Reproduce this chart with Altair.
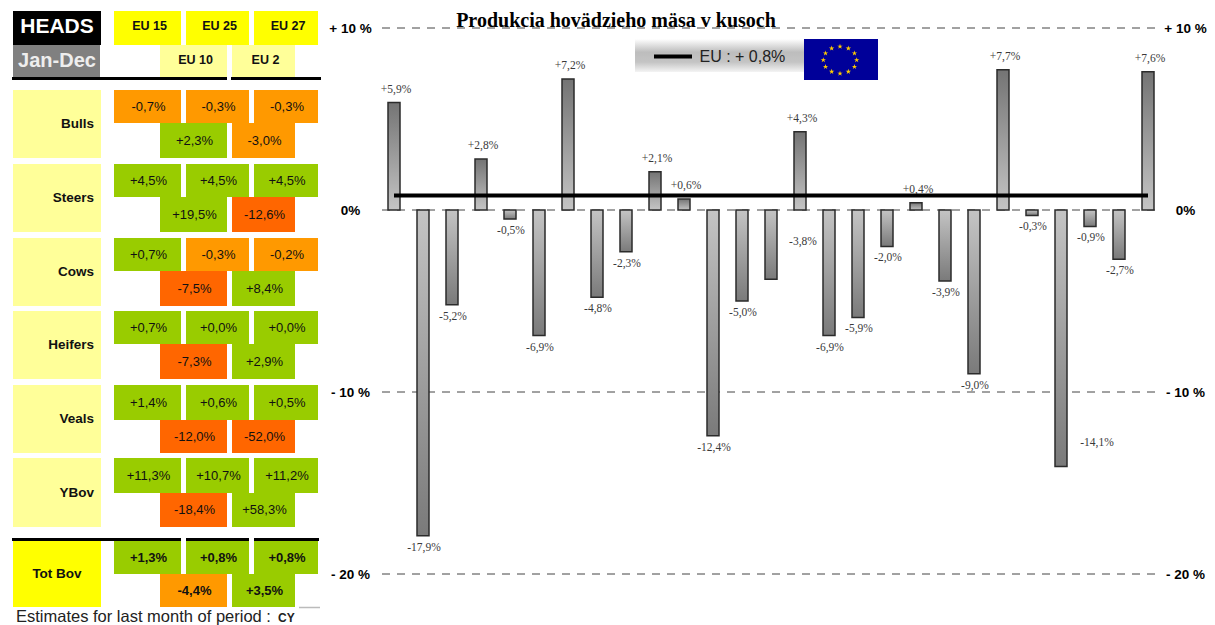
import altair as alt
import pandas as pd

# ---- bar chart values ----
countries = ["BE","BG","CZ","DK","DE","EE","IE","GR","ES","FR","IT","CY","LV","LT","LU","HU","MT","NL","AT","PL","PT","RO","SI","SK","FI","SE","UK"]
changes = [5.9,-17.9,-5.2,2.8,-0.5,-6.9,7.2,-4.8,-2.3,2.1,0.6,-12.4,-5.0,-3.8,4.3,-6.9,-5.9,-2.0,0.4,-3.9,-9.0,7.7,-0.3,-14.1,-0.9,-2.7,7.6]
eu_level = 0.8
y_ticks = [-20, -10, 0, 10]
title_text = "Produkcia hovädzieho mäsa v kusoch"
legend_text = "EU : + 0,8%"
stars = list(range(12))

# ---- table values ----
row_names = ["Bulls","Steers","Cows","Heifers","Veals","YBov","Tot Bov"]
eu15 = [-0.7,4.5,0.7,0.7,1.4,11.3,1.3]
eu25 = [-0.3,4.5,-0.3,0.0,0.6,10.7,0.8]
eu27 = [-0.3,4.5,-0.2,0.0,0.5,11.2,0.8]
eu10 = [2.3,19.5,-7.5,-7.3,-12.0,-18.4,-4.4]
eu2 = [-3.0,-12.6,8.4,2.9,-52.0,58.3,3.5]
top_heads = ["EU 15","EU 25","EU 27"]
low_heads = ["EU 10","EU 2"]
footer_text = "Estimates for last month of period : "
footer_code = "CY"

SANS = "Liberation Sans"
SERIF = "Liberation Serif"

def pct(v):
    return f"{v:+.1f}%".replace(".", ",")

# ---- table geometry (in table units, drawn through the panel's scales) ----
TW, TH = 315, 600
TOP_COLS = {"EU 15": (106, 173), "EU 25": (178, 241), "EU 27": (246, 310)}
LOW_COLS = {"EU 10": (152, 219), "EU 2": (224, 287)}
ROW_TOP = [82, 156, 230, 303, 377, 450, 533]
ROW_MID = [115, 189, 263, 336, 412, 485, 566]
ROW_BOT = [150, 224, 298, 371, 445, 519, 599]

fills = []
values = []
texts = []
for i, name in enumerate(row_names):
    is_tot = name == "Tot Bov"
    fills.append(dict(x0=5, x1=93, y0=ROW_TOP[i], y1=ROW_BOT[i], c="#ffff00" if is_tot else "#ffff99"))
    texts.append(dict(x=49 if is_tot else 86, y=(ROW_TOP[i] + ROW_BOT[i]) / 2, t=name, a="center" if is_tot else "right"))
    for head, v in zip(top_heads, (eu15[i], eu25[i], eu27[i])):
        a, b = TOP_COLS[head]
        values.append(dict(x0=a, x1=b, y0=ROW_TOP[i], y1=ROW_MID[i], v=v, t=pct(v), bold=is_tot))
    for head, v in zip(low_heads, (eu10[i], eu2[i])):
        a, b = LOW_COLS[head]
        values.append(dict(x0=a, x1=b, y0=ROW_MID[i], y1=ROW_BOT[i], v=v, t=pct(v), bold=is_tot))

head_cells = [dict(x0=5, x1=93, y0=3, y1=37, c="#000000"), dict(x0=5, x1=92, y0=37, y1=69, c="#808080")]
for head in top_heads:
    a, b = TOP_COLS[head]
    head_cells.append(dict(x0=a, x1=b, y0=3, y1=37, c="#ffff00"))
for head in low_heads:
    a, b = LOW_COLS[head]
    head_cells.append(dict(x0=a, x1=b, y0=37, y1=69, c="#ffff99"))
head_text = [dict(x=(TOP_COLS[h][0] + TOP_COLS[h][1]) / 2 + 2, y=18, t=h) for h in top_heads]
head_text += [dict(x=(LOW_COLS[h][0] + LOW_COLS[h][1]) / 2 + 2, y=52, t=h) for h in low_heads]
rules = [dict(x0=4, x1=219, y0=70.5, w=3, c="#000"), dict(x0=223, x1=313, y0=70.5, w=3, c="#000"),
         dict(x0=4, x1=173, y0=531.5, w=3, c="#000"), dict(x0=178, x1=241, y0=531.5, w=3, c="#000"),
         dict(x0=246, x1=311, y0=531.5, w=3, c="#000"), dict(x0=291, x1=312, y0=599.5, w=1.5, c="#bbbbbb")]

xt = alt.Scale(domain=[0, TW], range=[0, TW])
yt = alt.Scale(domain=[0, TH], range=[0, TH])
X = alt.X("x0:Q", scale=xt, axis=None)
Y = alt.Y("y0:Q", scale=yt, axis=None)

def rects(data):
    return alt.Chart(pd.DataFrame(data)).mark_rect().encode(
        X, Y, x2="x1:Q", y2="y1:Q", color=alt.Color("c:N", scale=None))

value_df = pd.DataFrame(values)
value_df["mx"] = (value_df.x0 + value_df.x1) / 2 + 1
value_df["my"] = (value_df.y0 + value_df.y1) / 2

value_rects = alt.Chart(value_df).mark_rect().encode(
    X, Y, x2="x1:Q", y2="y1:Q",
    color=alt.Color("v:Q", legend=None,
                    scale=alt.Scale(type="threshold", domain=[-5, 0], range=["#ff6600", "#ff9900", "#99cc00"])))

def cell_text(df, **kw):
    return alt.Chart(df).mark_text(**kw).encode(
        x=alt.X("mx:Q", scale=xt, axis=None), y=alt.Y("my:Q", scale=yt, axis=None), text="t:N")

value_plain = cell_text(value_df[~value_df.bold], font=SANS, fontSize=13, color="#111111")
value_bold = cell_text(value_df[value_df.bold], font=SANS, fontSize=13, fontWeight="bold", color="#111111")

row_df = pd.DataFrame(texts).rename(columns={"x": "mx", "y": "my"})
row_right = cell_text(row_df[row_df.a == "right"], font=SANS, fontSize=13.5, fontWeight="bold", align="right", color="#111111")
row_center = cell_text(row_df[row_df.a == "center"], font=SANS, fontSize=13.5, fontWeight="bold", align="center", color="#111111")
heads_layer = cell_text(pd.DataFrame(head_text).rename(columns={"x": "mx", "y": "my"}), font=SANS, fontSize=12.5, fontWeight="bold", color="#111111")
heads_big = cell_text(pd.DataFrame([dict(mx=49, my=19, t="HEADS")]), font=SANS, fontSize=21, fontWeight="bold", color="#ffffff")
jan_big = cell_text(pd.DataFrame([dict(mx=49, my=53, t="Jan-Dec")]), font=SANS, fontSize=20, fontWeight="bold", color="#eeeeee")
foot1 = cell_text(pd.DataFrame([dict(mx=8, my=609, t=footer_text)]), font=SANS, fontSize=16.5, align="left", color="#222222")
foot2 = cell_text(pd.DataFrame([dict(mx=270, my=610, t=footer_code)]), font=SANS, fontSize=12, fontWeight="bold", align="left", color="#222222")

rule_layer = alt.Chart(pd.DataFrame(rules)).mark_rule().encode(
    x=alt.X("x0:Q", scale=xt, axis=None), x2="x1:Q", y=alt.Y("y0:Q", scale=yt, axis=None),
    color=alt.Color("c:N", scale=None), strokeWidth=alt.StrokeWidth("w:Q", scale=None))

table = alt.layer(rects(head_cells), rects(fills), value_rects, rule_layer, value_plain, value_bold,
                  row_right, row_center, heads_layer, heads_big, jan_big, foot1, foot2
                  ).properties(width=TW, height=TH)

# ---- bar panel ----
PW, PH = 783, 566
bar_df = pd.DataFrame({"c": countries, "v": changes})
bar_df["t"] = [pct(v) for v in changes]
xs = alt.Scale(domain=countries, paddingInner=0, paddingOuter=0)
ys = alt.Scale(domain=[-20, 10], range=[PH, 20])
x_none = alt.X("c:N", scale=xs, axis=None)
y_none = alt.Y("v:Q", scale=ys, axis=None)

label_map = "datum.value == 0 ? '0%' : (datum.value > 0 ? '+ ' + datum.value + ' %' : '- ' + (-datum.value) + ' %')"

def y_axis(orient, pad, extent):
    return alt.Axis(orient=orient, values=y_ticks, title=None, domain=False, ticks=False, grid=False,
                    labelExpr=label_map, labelFont=SANS, labelFontWeight="bold", labelFontSize=13.5,
                    labelColor="#000000", labelAlign="center", labelPadding=pad, labelBaseline="middle",
                    minExtent=extent, maxExtent=extent)

grad_pos = alt.Gradient(gradient="linear", x1=0, x2=0, y1=0, y2=1,
                        stops=[alt.GradientStop(offset=0, color="#747474"), alt.GradientStop(offset=1, color="#c4c4c4")])
grad_neg = alt.Gradient(gradient="linear", x1=0, x2=0, y1=0, y2=1,
                        stops=[alt.GradientStop(offset=0, color="#c4c4c4"), alt.GradientStop(offset=1, color="#7a7a7a")])

axis_left = alt.Chart(bar_df).mark_bar(opacity=0).encode(
    x=alt.X("c:N", scale=xs, title=None,
            axis=alt.Axis(labelAngle=0, domain=False, ticks=False, labelFont=SERIF, labelFontWeight="bold",
                          labelFontSize=11.5, labelColor="#000000", labelPadding=12, title=None)),
    y=alt.Y("v:Q", scale=ys, axis=y_axis("left", 29.5, 56)))
axis_right = alt.Chart(bar_df).mark_bar(opacity=0).encode(
    x=x_none, y=alt.Y("v:Q", scale=ys, axis=y_axis("right", 22.5, 44)))

grid = alt.Chart(pd.DataFrame({"v": y_ticks})).mark_rule(color="#444444", strokeWidth=1, strokeDash=[8, 7]).encode(
    y=y_none, x=alt.value(2.5), x2=alt.value(778.5))

def bars(frame, grad):
    return alt.Chart(frame).mark_bar(size=12, color=grad, stroke="#2b2b2b", strokeWidth=1.5).encode(
        x=x_none, y=y_none, y2=alt.Y2(datum=0))

bars_pos = bars(bar_df[bar_df.v > 0], grad_pos)
bars_neg = bars(bar_df[bar_df.v < 0], grad_neg)

def bar_labels(frame, **kw):
    return alt.Chart(frame).mark_text(font=SERIF, fontSize=11.5, color="#3a3a3a", **kw).encode(
        x=x_none, y=y_none, text="t:N")

pos_labels = bar_labels(bar_df[bar_df.v > 0], dy=-13, dx=2)
neg_labels = bar_labels(bar_df[(bar_df.v < 0) & (~bar_df.c.isin(["LT", "SK"]))], dy=12, dx=1)
lt_label = bar_labels(bar_df[bar_df.c == "LT"], dy=-37, dx=32)
sk_label = bar_labels(bar_df[bar_df.c == "SK"], dy=-24, dx=36)

eu_df = pd.DataFrame({"c": [countries[0], countries[-1]], "v": [eu_level, eu_level]})
eu_line = alt.Chart(eu_df).mark_line(color="#000000", strokeWidth=4).encode(
    x=alt.X("c:N", scale=xs, axis=None), y=y_none)

legend_band = alt.Chart(pd.DataFrame({"k": [0]})).mark_rect(
    color=alt.Gradient(gradient="linear", x1=0, x2=0, y1=0, y2=1,
                       stops=[alt.GradientStop(offset=0, color="#ffffff"),
                              alt.GradientStop(offset=0.4, color="#bdbdbd"),
                              alt.GradientStop(offset=0.7, color="#c4c4c4"),
                              alt.GradientStop(offset=1, color="#f4f4f4")])
).encode(x=alt.value(255.5), x2=alt.value(424.5), y=alt.value(31), y2=alt.value(64))
legend_line = alt.Chart(pd.DataFrame({"k": [0]})).mark_rule(color="#000000", strokeWidth=4).encode(
    x=alt.value(274.5), x2=alt.value(312.5), y=alt.value(48.5))
legend_label = alt.Chart(pd.DataFrame({"t": [legend_text]})).mark_text(
    font=SANS, fontSize=16, align="left", color="#222222").encode(x=alt.value(320), y=alt.value(48.5), text="t:N")
flag = alt.Chart(pd.DataFrame({"k": [0]})).mark_rect(color="#000099").encode(
    x=alt.value(424.5), x2=alt.value(498.5), y=alt.value(31), y2=alt.value(72))
STAR = "M0,-1L0.224,-0.309L0.951,-0.309L0.363,0.118L0.588,0.809L0,0.382L-0.588,0.809L-0.363,0.118L-0.951,-0.309L-0.224,-0.309Z"
star_layer = alt.Chart(pd.DataFrame({"h": stars})).transform_calculate(
    sx="460.5 + 16.7 * sin(datum.h * PI / 6)", sy="52 - 13.5 * cos(datum.h * PI / 6)"
).mark_point(shape=STAR, filled=True, color="#ffcc00", size=32, opacity=1).encode(
    x=alt.X("sx:Q", scale=None, axis=None), y=alt.Y("sy:Q", scale=None, axis=None))

title_layer = alt.Chart(pd.DataFrame({"t": [title_text]})).mark_text(
    font=SERIF, fontSize=20, fontWeight="bold", color="#000000", baseline="alphabetic").encode(
    x=alt.value(236.5), y=alt.value(18.5), text="t:N")

panel = alt.layer(axis_left, axis_right, grid, bars_pos, bars_neg, pos_labels, neg_labels, lt_label, sk_label,
                  eu_line, legend_band, legend_line, legend_label, flag, star_layer, title_layer
                  ).resolve_axis(y="independent").properties(width=PW, height=PH)

chart = alt.hconcat(table, panel, spacing=0.5, padding=0, background="#ffffff").configure_view(stroke=None)

chart.save("out.html", embed_options={"renderer": "svg", "actions": False})
